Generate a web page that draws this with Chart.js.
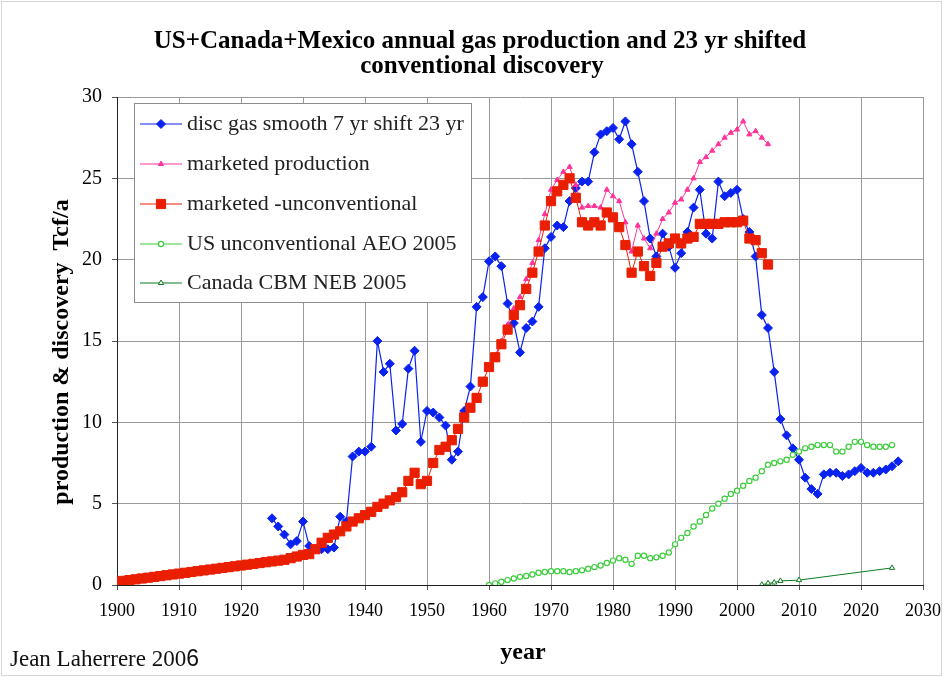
<!DOCTYPE html>
<html>
<head>
<meta charset="utf-8">
<title>US+Canada+Mexico annual gas production</title>
<script src="https://cdn.jsdelivr.net/npm/chart.js@4.4.1/dist/chart.umd.min.js"></script>
<style>
    html, body { margin: 0; padding: 0; background: #fff; }
    #wrap { position: relative; width: 943px; height: 677px; }
</style>
</head>
<body>
<div id="wrap"><canvas id="myChart"></canvas></div>
<script>
// ---- data ----
const titleLines = [
    'US+Canada+Mexico annual gas production and 23 yr shifted',
    'conventional discovery'
];
const yTitle = 'production & discovery  Tcf/a';
const xTitle = 'year';
const credit = 'Jean Laherrere 200';
const creditLast = '6';

const seriesNames = [
    'disc gas smooth 7 yr shift 23 yr',
    'marketed production',
    'marketed -unconventional',
    'US unconventional AEO 2005',
    'Canada CBM NEB 2005'
];

// disc gas smooth 7 yr shift 23 yr, 1925..2026
const discStart = 1925;
const discGas = [
    4.1, 3.6, 3.1, 2.5, 2.7, 3.9, 2.4, 2.2, 2.2, 2.2,
    2.3, 4.2, 3.9, 7.9, 8.2, 8.2, 8.5, 15.0, 13.1, 13.6,
    9.5, 9.9, 13.3, 14.4, 8.8, 10.7, 10.6, 10.3, 9.8, 7.7,
    8.2, 10.7, 12.2, 17.1, 17.7, 19.9, 20.2, 19.6, 17.3, 16.1,
    14.3, 15.8, 16.2, 17.1, 20.7, 21.4, 22.1, 22.0, 23.6, 24.4,
    24.8, 24.8, 26.6, 27.7, 27.9, 28.1, 27.4, 28.5, 27.1, 25.4,
    23.6, 21.3, 20.2, 21.6, 20.8, 19.5, 20.4, 21.7, 23.2, 24.3,
    21.6, 21.3, 24.8, 23.9, 24.1, 24.3, 22.5, 21.7, 20.2, 16.6,
    15.8, 13.1, 10.2, 9.2, 8.4, 7.7, 6.6, 5.9, 5.6, 6.8,
    6.9, 6.9, 6.7, 6.8, 7.0, 7.2, 6.9, 6.9, 7.0, 7.1, 7.3, 7.6
];

// marketed production, 1960..2005
const marketedStart = 1960;
const marketed = [
    13.4, 14.1, 15.0, 16.0, 17.0, 17.7, 18.8, 19.8, 21.2, 22.8,
    24.3, 24.9, 25.4, 25.7, 24.6, 23.2, 23.3, 23.3, 23.2, 24.3,
    23.9, 23.6, 22.3, 20.5, 22.1, 21.3, 20.7, 21.6, 22.5, 22.9,
    23.5, 23.7, 24.3, 25.0, 26.0, 26.3, 26.7, 27.1, 27.5, 27.8,
    28.0, 28.5, 27.7, 27.9, 27.5, 27.1
];

// marketed - unconventional, 1900..2005
const convStart = 1900;
const marketedConv = [
    0.2, 0.25, 0.3, 0.35, 0.4, 0.45, 0.5, 0.55, 0.6, 0.65,
    0.7, 0.75, 0.8, 0.85, 0.9, 0.95, 1.0, 1.05, 1.1, 1.15,
    1.2, 1.25, 1.3, 1.35, 1.4, 1.45, 1.5, 1.55, 1.65, 1.75,
    1.85, 1.9, 2.2, 2.6, 2.9, 3.1, 3.3, 3.6, 3.9, 4.1,
    4.3, 4.5, 4.8, 5.0, 5.2, 5.4, 5.7, 6.4, 6.9, 6.2,
    6.4, 7.5, 8.3, 8.5, 8.9, 9.6, 10.3, 10.9, 11.5, 12.5,
    13.4, 14.0, 14.8, 15.7, 16.6, 17.2, 18.2, 19.2, 20.5, 22.1,
    23.6, 24.2, 24.6, 25.0, 23.8, 22.3, 22.1, 22.3, 22.1, 22.9,
    22.6, 22.0, 20.9, 19.2, 20.5, 19.6, 19.0, 19.8, 20.8, 21.0,
    21.3, 21.0, 21.3, 21.4, 22.2, 22.2, 22.2, 22.2, 22.3, 22.3,
    22.3, 22.4, 21.3, 21.2, 20.4, 19.7
];

// US unconventional AEO 2005, 1960..2025
const usUnconvStart = 1960;
const usUnconv = [
    0.0, 0.1, 0.2, 0.3, 0.4, 0.5, 0.55, 0.65, 0.75, 0.8,
    0.85, 0.85, 0.85, 0.8, 0.85, 0.9, 1.0, 1.1, 1.2, 1.35,
    1.5, 1.65, 1.55, 1.3, 1.8, 1.8, 1.65, 1.7, 1.8, 2.0,
    2.5, 2.9, 3.2, 3.6, 3.9, 4.3, 4.7, 5.0, 5.3, 5.6,
    5.8, 6.1, 6.4, 6.6, 7.0, 7.4, 7.5, 7.6, 7.7, 8.0,
    8.2, 8.4, 8.5, 8.6, 8.6, 8.6, 8.2, 8.2, 8.5, 8.8,
    8.8, 8.6, 8.5, 8.5, 8.5, 8.6
];

// Canada CBM NEB 2005 (not every year)
const cbmYears = [2004, 2005, 2006, 2007, 2010, 2025];
const cbm = [0.02, 0.1, 0.15, 0.25, 0.3, 1.05];

const xTicks = { min: 1900, max: 2030, step: 10 };
const yTicks = { min: 0, max: 30, step: 5 };

// ---- helpers ----
function fromStart(start, values) {
    return values.map((v, i) => ({ x: start + i, y: v }));
}
function fromYears(years, values) {
    return values.map((v, i) => ({ x: years[i], y: v }));
}

const serif = '"Liberation Serif", "Times New Roman", Times, serif';
const colors = ['#0a22f0', '#ff3399', '#ea1e00', '#3ccc3c', '#0a7d1e'];

const datasets = [
    {
        label: seriesNames[0],
        data: fromStart(discStart, discGas),
        borderColor: colors[0], backgroundColor: colors[0],
        borderWidth: 1.2, pointStyle: 'rectRot', pointRadius: 4.5,
        pointBorderWidth: 1, order: 5
    },
    {
        label: seriesNames[1],
        data: fromStart(marketedStart, marketed),
        borderColor: colors[1], backgroundColor: colors[1],
        borderWidth: 1, pointStyle: 'triangle', pointRadius: 3,
        pointBorderWidth: 1, order: 4
    },
    {
        label: seriesNames[2],
        data: fromStart(convStart, marketedConv),
        borderColor: colors[2], backgroundColor: colors[2],
        borderWidth: 1, pointStyle: 'rect', pointRadius: 6.5,
        pointBorderWidth: 1, order: 3
    },
    {
        label: seriesNames[3],
        data: fromStart(usUnconvStart, usUnconv),
        borderColor: colors[3], backgroundColor: '#ffffff',
        pointBorderColor: colors[3],
        borderWidth: 1, pointStyle: 'circle', pointRadius: 2.6,
        pointBorderWidth: 1.2, order: 2
    },
    {
        label: seriesNames[4],
        data: fromYears(cbmYears, cbm),
        borderColor: colors[4], backgroundColor: '#ffffff',
        pointBorderColor: colors[4],
        borderWidth: 1, pointStyle: 'triangle', pointRadius: 3,
        pointBorderWidth: 1, order: 1
    }
];

// titles, legend box, credit line
const decorations = {
    id: 'decorations',
    afterDraw(chart) {
        const ctx = chart.ctx;
        ctx.save();

        // outer frame
        ctx.strokeStyle = '#d6d6d6';
        ctx.lineWidth = 1;
        ctx.strokeRect(1.5, 1.5, chart.width - 3, chart.height - 3);

        ctx.fillStyle = '#000';
        ctx.textAlign = 'center';
        ctx.textBaseline = 'middle';
        ctx.font = 'bold 25px ' + serif;
        ctx.fillText(titleLines[0], 480, 42);
        ctx.fillText(titleLines[1], 482, 67);

        ctx.font = 'bold 24px ' + serif;
        ctx.fillText(xTitle, 523, 653);

        ctx.save();
        ctx.translate(62, 352);
        ctx.rotate(-Math.PI / 2);
        ctx.font = 'bold 24px ' + serif;
        ctx.fillText(yTitle, 0, 0);
        ctx.restore();

        ctx.textAlign = 'left';
        ctx.font = '23px ' + serif;
        ctx.fillStyle = '#111';
        ctx.fillText(credit, 10, 660);
        const w = ctx.measureText(credit).width;
        ctx.font = '23px "Liberation Sans", Arial, sans-serif';
        ctx.fillText(creditLast, 10 + w, 660);

        // legend
        ctx.fillStyle = '#fff';
        ctx.fillRect(134, 103, 337, 199);
        ctx.strokeStyle = '#8c8c8c';
        ctx.lineWidth = 1;
        ctx.strokeRect(134.5, 103.5, 337, 199);

        const rowY = [124, 164, 204, 244, 283];
        chart.data.datasets.forEach((ds, i) => {
            const y = rowY[i];
            ctx.strokeStyle = ds.borderColor;
            ctx.lineWidth = 1.2;
            ctx.beginPath();
            ctx.moveTo(140, y);
            ctx.lineTo(182, y);
            ctx.stroke();
            ctx.fillStyle = ds.backgroundColor;
            ctx.strokeStyle = ds.pointBorderColor || ds.borderColor;
            ctx.lineWidth = ds.pointBorderWidth;
            Chart.helpers.drawPoint(ctx, {
                pointStyle: ds.pointStyle,
                radius: ds.pointRadius,
                rotation: 0,
                borderWidth: ds.pointBorderWidth
            }, 161, y);
            ctx.fillStyle = '#222';
            ctx.font = '22px ' + serif;
            ctx.textAlign = 'left';
            ctx.textBaseline = 'middle';
            ctx.fillText(ds.label, 187, y);
        });

        ctx.restore();
    }
};

const config = {
    type: 'line',
    data: { datasets: datasets },
    options: {
        responsive: true,
        maintainAspectRatio: false,
        animation: false,
        layout: { padding: { top: 97, right: 20, left: 0, bottom: 0 } },
        plugins: {
            legend: { display: false },
            tooltip: { enabled: false },
            title: { display: false }
        },
        scales: {
            x: {
                type: 'linear',
                min: xTicks.min,
                max: xTicks.max,
                afterFit: (scale) => {
                    scale.height = 92;
                    scale.paddingLeft = 0;
                    scale.paddingRight = 0;
                },
                ticks: {
                    stepSize: xTicks.step,
                    color: '#000',
                    padding: 10,
                    maxRotation: 0,
                    font: { family: serif, size: 18 },
                    callback: (v) => String(v)
                },
                grid: { color: '#9a9a9a', lineWidth: 1, tickLength: 5, tickColor: '#555' },
                border: { color: '#222', width: 1 }
            },
            y: {
                min: yTicks.min,
                max: yTicks.max,
                afterFit: (scale) => { scale.width = 117; },
                ticks: {
                    stepSize: yTicks.step,
                    color: '#000',
                    padding: 10,
                    font: { family: serif, size: 20 }
                },
                grid: { color: '#9a9a9a', lineWidth: 1, tickLength: 5, tickColor: '#555' },
                border: { color: '#222', width: 1 }
            }
        }
    },
    plugins: [decorations]
};

const myChart = new Chart(document.getElementById('myChart'), config);
</script>
</body>
</html>
